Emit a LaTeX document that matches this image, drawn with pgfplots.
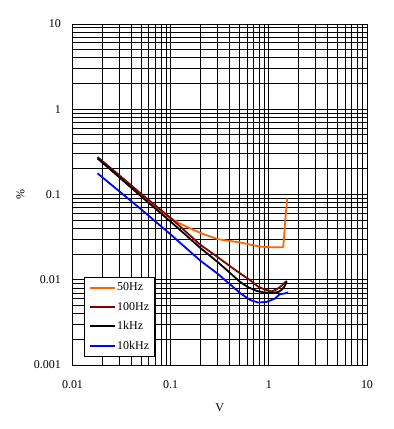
\documentclass[border=0pt]{standalone}
\usepackage{fontspec}
\setmainfont{Liberation Serif}
\usepackage{pgfplots}
\pgfplotsset{compat=1.18}
\definecolor{c50}{RGB}{255,102,0}
\definecolor{c100}{RGB}{128,0,0}
\definecolor{c10k}{RGB}{0,0,255}
\begin{document}
\fontsize{12}{14}\selectfont
\begin{tikzpicture}
\begin{axis}[
 at={(0,0)}, anchor=south west,
 scale only axis, width=294.5bp, height=341bp,
 xmode=log, ymode=log,
 xmin=0.01, xmax=10, ymin=0.001, ymax=10,
 xtick={0.01,0.1,1,10}, xticklabels={0.01,0.1,1,10},
 ytick={0.001,0.01,0.1,1,10}, yticklabels={0.001,0.01,0.1,1,10},
 grid=both,
 major grid style={black, line width=0.9bp},
 minor grid style={black, line width=0.9bp},
 major tick length=0pt, minor tick length=0pt,
 axis line style={black, line width=0.9bp},
 ticklabel style={font=\fontsize{12}{14}\selectfont},
 xticklabel style={yshift=-11bp},
 yticklabel style={xshift=-7.5bp},
 xlabel={V}, ylabel={\%},
 every axis x label/.style={at={(axis description cs:0.5,-0.1246)}, anchor=center, font=\fontsize{12}{14}\selectfont},
 every axis y label/.style={at={(axis description cs:-0.1766,0.5)}, anchor=center, rotate=90, font=\fontsize{12}{14}\selectfont},
 legend style={at={(axis description cs:0,0)}, anchor=south west, xshift=11.8bp, yshift=8bp,
   draw=black, line width=0.9bp, fill=white, inner xsep=4.5bp, inner ysep=1bp, row sep=0pt,
   nodes={inner xsep=1bp, inner ysep=0pt, minimum height=19.4bp, font=\fontsize{12}{14}\selectfont}},
 legend cell align=left,
 legend image code/.code={\draw[#1, line width=2bp] (0bp,0bp) -- (25bp,0bp);},
 every axis plot/.append style={line width=1.8bp, line join=round},
]
\addplot[c50, no marks] coordinates {
(0.018,0.268) (0.03,0.161) (0.05,0.097) (0.072,0.069) (0.1,0.0525) (0.13,0.0445) (0.17,0.0385) (0.22,0.034) (0.3,0.030) (0.4,0.0285) (0.5,0.0275) (0.65,0.0258) (0.8,0.0245) (1.0,0.0241) (1.2,0.024) (1.4,0.024) (1.43,0.032) (1.46,0.045) (1.49,0.06) (1.52,0.075) (1.54,0.09)};
\addlegendentry{50Hz}
\addplot[c100, no marks] coordinates {
(0.018,0.275) (0.03,0.168) (0.05,0.102) (0.1,0.053) (0.2,0.0258) (0.3,0.0185) (0.4,0.0145) (0.508,0.0119) (0.643,0.0099) (0.78,0.0083) (0.9,0.0077) (1.07,0.0073) (1.2,0.0077) (1.35,0.0085) (1.52,0.0097)};
\addlegendentry{100Hz}
\addplot[black, no marks] coordinates {
(0.018,0.265) (0.03,0.159) (0.05,0.095) (0.1,0.048) (0.2,0.0237) (0.3,0.0162) (0.4,0.0121) (0.5,0.0096) (0.6,0.0083) (0.75,0.0074) (0.9,0.0071) (1.1,0.0070) (1.25,0.0072) (1.35,0.0076) (1.45,0.0084) (1.52,0.0095)};
\addlegendentry{1kHz}
\addplot[c10k, no marks] coordinates {
(0.018,0.177) (0.03,0.109) (0.05,0.067) (0.1,0.034) (0.2,0.0168) (0.3,0.0118) (0.4,0.0089) (0.508,0.0070) (0.643,0.0058) (0.78,0.0054) (0.95,0.0055) (1.15,0.0060) (1.3,0.0068) (1.45,0.0069) (1.58,0.0071)};
\addlegendentry{10kHz}
\end{axis}
\pgfresetboundingbox
\useasboundingbox (-72.5bp,-64bp) rectangle (321.5bp,365bp);
\end{tikzpicture}
\end{document}
